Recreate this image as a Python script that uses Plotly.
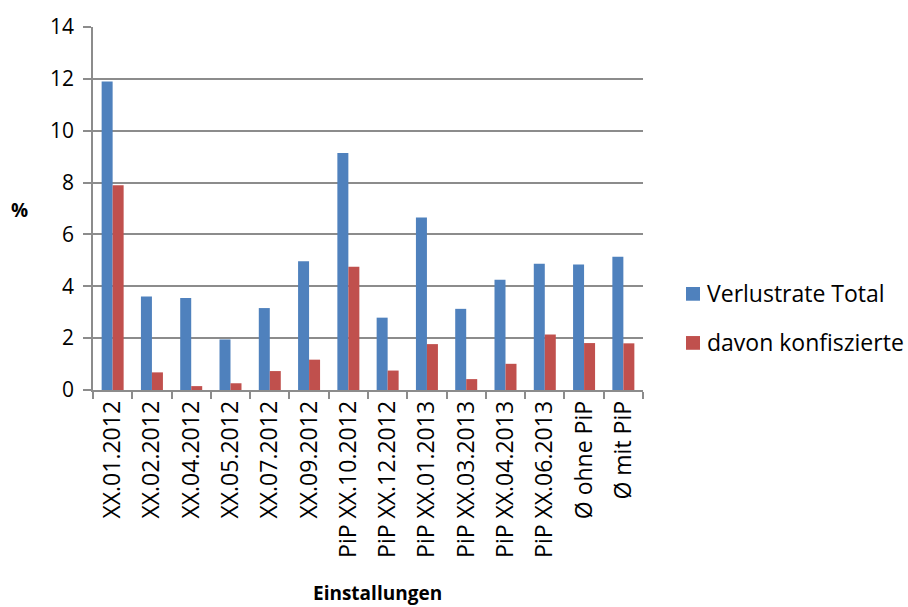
import plotly.graph_objects as go

categories = [
    "XX.01.2012", "XX.02.2012", "XX.04.2012", "XX.05.2012", "XX.07.2012",
    "XX.09.2012", "PiP XX.10.2012", "PiP XX.12.2012", "PiP XX.01.2013",
    "PiP XX.03.2013", "PiP XX.04.2013", "PiP XX.06.2013", "Ø ohne PiP", "Ø mit PiP",
]
verlustrate_total = [11.9, 3.61, 3.55, 1.95, 3.16, 4.97, 9.14, 2.79, 6.65, 3.13, 4.25, 4.87, 4.84, 5.14]
davon_konfisziert = [7.9, 0.68, 0.15, 0.26, 0.73, 1.17, 4.75, 0.75, 1.77, 0.42, 1.01, 2.14, 1.81, 1.80]
y_ticks = [0, 2, 4, 6, 8, 10, 12, 14]
series_names = ["Verlustrate Total", "davon konfiszierte"]
series_colors = ["#4f81bd", "#c0504d"]

FONT = "Open Sans, Lato, sans-serif"
GRID = "#8c8c8c"
W, H = 908, 607
L, R, T, B = 93, 265, 20, 217

fig = go.Figure()
for name, vals, col in zip(series_names, [verlustrate_total, davon_konfisziert], series_colors):
    fig.add_trace(go.Bar(
        x=categories, y=vals, name=name,
        marker=dict(color=col, line=dict(color=col, width=0)),
    ))

# Helpers converting page pixels to paper coordinates
pw, ph = W - L - R, H - T - B
def px_x(x):
    return (x - L) / pw
def px_y(y):
    return (H - B - y) / ph

# Legend to the right of the plot area
shapes, annotations = [], []
for i, (name, col) in enumerate(zip(series_names, series_colors)):
    cy = 292 + 50 * i
    shapes.append(dict(
        type="rect", xref="paper", yref="paper",
        x0=px_x(686), x1=px_x(700), y0=px_y(cy + 7), y1=px_y(cy - 7),
        fillcolor=col, line=dict(width=0),
    ))
    annotations.append(dict(
        text=name, xref="paper", yref="paper", x=px_x(705), y=px_y(cy - 1),
        xanchor="left", yanchor="middle", showarrow=False,
        font=dict(family=FONT, size=23, color="black"),
    ))

# Axis titles
annotations.append(dict(
    text="<b>%</b>", xref="paper", yref="paper", x=px_x(19), y=px_y(207),
    xanchor="center", yanchor="middle",
    showarrow=False, font=dict(family=FONT, size=19),
))
annotations.append(dict(
    text="<b>Einstallungen</b>", xref="paper", yref="paper", x=px_x(377), y=px_y(597),
    xanchor="center", yanchor="middle",
    showarrow=False, font=dict(family=FONT, size=19),
))

fig.update_layout(
    width=W, height=H,
    margin=dict(l=L, r=R, t=T, b=B),
    plot_bgcolor="white", paper_bgcolor="white",
    barmode="group", bargap=0.44, bargroupgap=0,
    font=dict(family=FONT, size=20, color="black"),
    showlegend=False,
    xaxis=dict(
        type="category", tickangle=-90,
        tickson="boundaries", ticks="outside", ticklen=7, tickcolor=GRID, tickwidth=1.5,
        showline=True, linecolor=GRID, linewidth=1.5,
        tickfont=dict(family=FONT, size=23),
        showgrid=False,
    ),
    yaxis=dict(
        range=[0, 14], tickvals=y_ticks,
        showgrid=True, gridcolor=GRID, gridwidth=1.5,
        showline=True, linecolor=GRID, linewidth=1.5,
        ticks="outside", ticklen=8, tickcolor=GRID, tickwidth=1.5,
        tickfont=dict(family=FONT, size=21),
        ticklabelstandoff=5,
        zeroline=False,
    ),
    shapes=shapes,
    annotations=annotations,
)

fig.write_html("out.html")
